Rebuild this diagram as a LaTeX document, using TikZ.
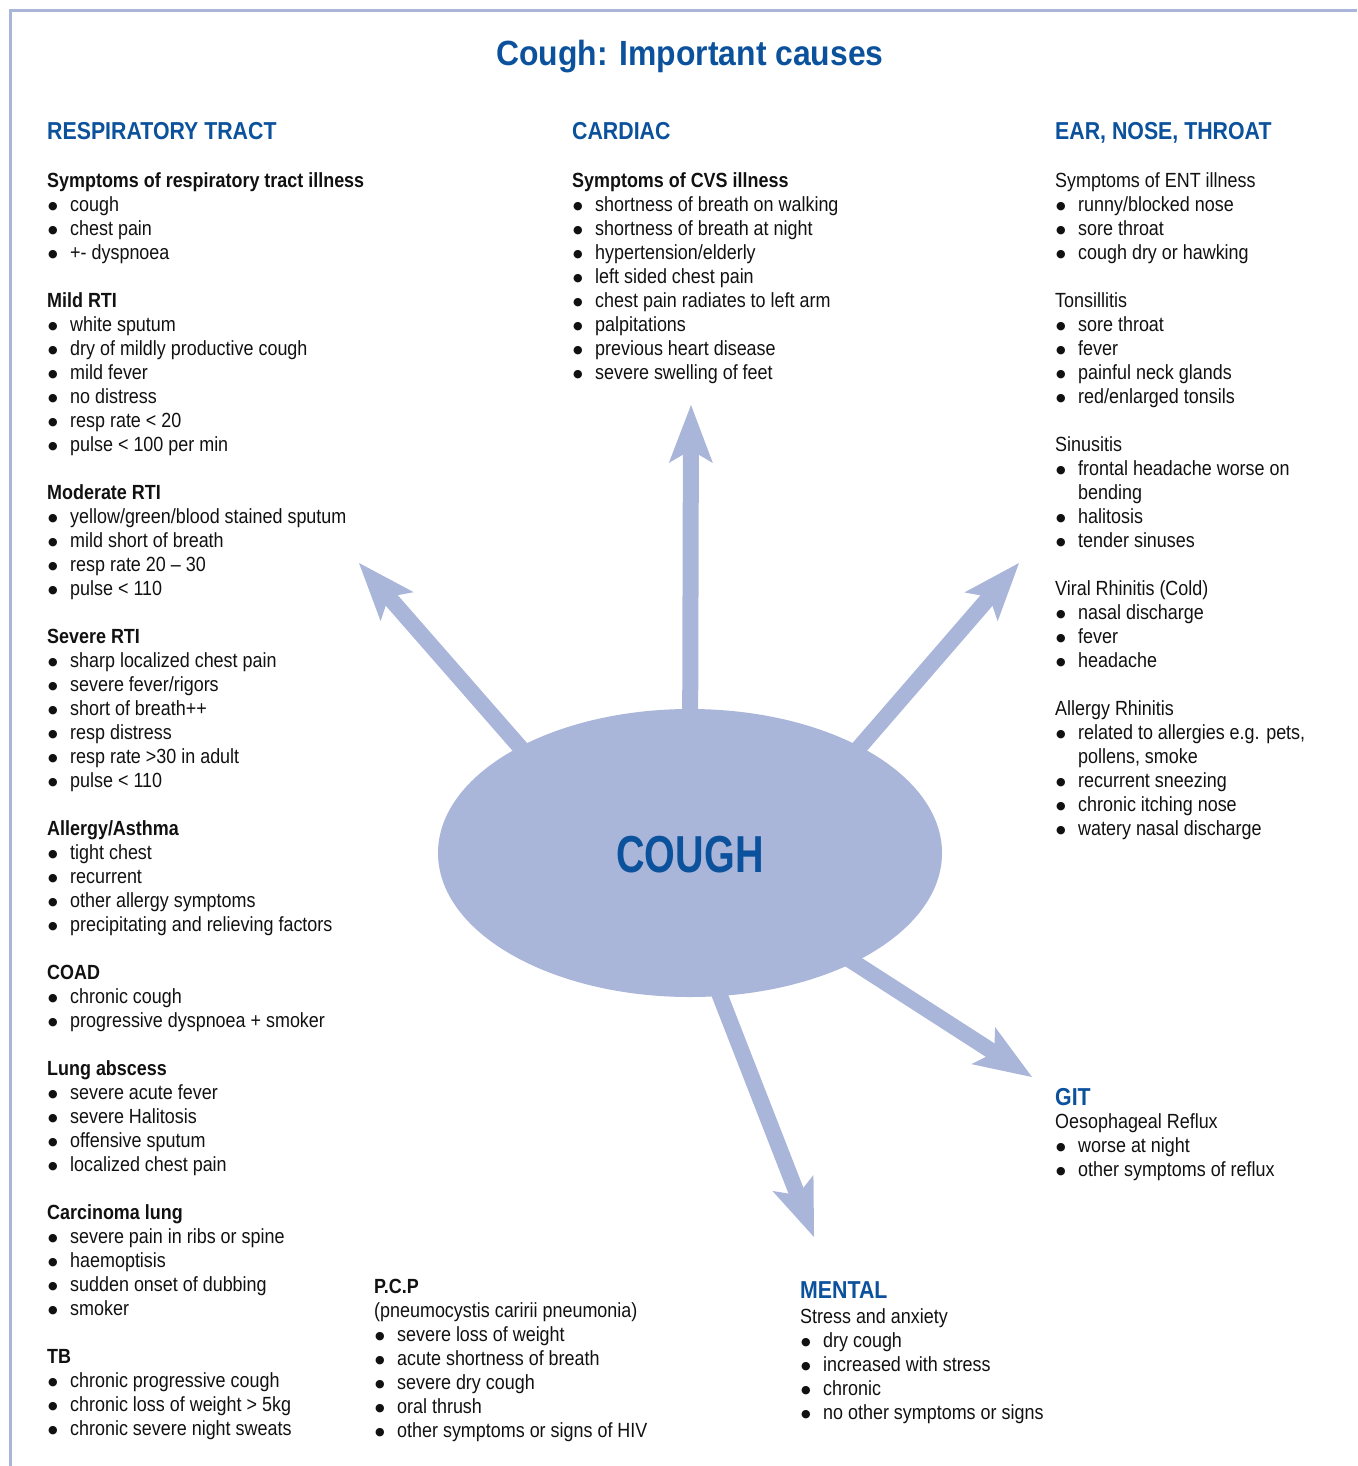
\documentclass[tikz,border=0pt]{standalone}
\usepackage{fontspec}
\setmainfont{Liberation Sans}[FakeStretch=0.875]
\newfontfamily\titlefont{Liberation Sans}[FakeStretch=0.91]
\newfontfamily\headfont{Liberation Sans}[FakeStretch=0.87]
\newfontfamily\coughfont{Liberation Sans}[FakeStretch=0.76]
\newfontfamily\bulletfont{DejaVu Sans}
\usetikzlibrary{arrows.meta,shapes.geometric}
\definecolor{arrowblue}{HTML}{A9B5D9}
\definecolor{headblue}{HTML}{0B519C}
\definecolor{txt}{HTML}{111111}
\newcommand{\bl}{\makebox[23pt][l]{\hspace{1pt}\raisebox{1.5pt}{\bulletfont\fontsize{11}{11}\selectfont ●}}}
\newcommand{\ind}{\hspace*{23pt}}
\newcommand{\fl}{\rule{0pt}{17pt}}
\begin{document}
\begin{tikzpicture}[x=1pt,y=-1pt,
  body/.style={anchor=north west, inner sep=0pt, align=left, text=txt, font=\fontsize{20.5}{24}\selectfont},
  head/.style={anchor=base west, inner sep=0pt, text=headblue, font=\headfont\fontsize{24.5}{30}\selectfont\bfseries},
  bigarrow/.style={line width=16pt, draw=arrowblue, -{Stealth[length=58pt,width=44pt,inset=13pt,line width=0pt]}}]
\useasboundingbox (0,0) rectangle (1357,1466);

% border
\coordinate (bTL) at (10.5,11);
\coordinate (bTR) at (1357,11);
\coordinate (bBL) at (10.5,1466);
\draw[arrowblue, line width=3pt] (bTR) -- (bTL) -- (bBL);

% title
\node[anchor=base, inner sep=0pt, text=headblue, font=\titlefont\fontsize{35}{42}\selectfont\bfseries] (title) at (690,66) {Cough: Important causes};

% central ellipse
\node[ellipse, fill=arrowblue, minimum width=504pt, minimum height=288pt, inner sep=0pt] (cough) at (690,853) {};

% arrows
\coordinate (upbase) at (690,780);
\coordinate (uptip) at (691,405);
\coordinate (ulbase) at (568,802);
\coordinate (ultip) at (359,563);
\coordinate (urbase) at (812,802);
\coordinate (urtip) at (1019,563);
\coordinate (drbase) at (802,929);
\coordinate (drtip) at (1032,1077);
\coordinate (dbase) at (701,947);
\coordinate (dtip) at (814,1237);
\draw[bigarrow] (upbase) -- (uptip);
\draw[bigarrow] (ulbase) -- (ultip);
\draw[bigarrow] (urbase) -- (urtip);
\draw[bigarrow] (drbase) -- (drtip);
\draw[bigarrow] (dbase) -- (dtip);

\node[anchor=base, inner sep=0pt, text=headblue, font=\coughfont\fontsize{52}{60}\selectfont\bfseries] (coughlabel) at (690,872) {COUGH};

% headers
\node[head] (hresp) at (47,140) {RESPIRATORY TRACT};
\node[head] (hcard) at (572,140) {CARDIAC};
\node[head] (hent) at (1055,140) {EAR, NOSE, THROAT};
\node[head] (hgit) at (1055,1105) {GIT};
\node[head] (hmental) at (800,1298) {MENTAL};

% respiratory column
\node[body] (resp) at (47,170) {\fl\textbf{Symptoms of respiratory tract illness}\\
\bl cough\\
\bl chest pain\\
\bl +- dyspnoea\\[24pt]
\textbf{Mild RTI}\\
\bl white sputum\\
\bl dry of mildly productive cough\\
\bl mild fever\\
\bl no distress\\
\bl resp rate < 20\\
\bl pulse < 100 per min\\[24pt]
\textbf{Moderate RTI}\\
\bl yellow/green/blood stained sputum\\
\bl mild short of breath\\
\bl resp rate 20 -- 30\\
\bl pulse < 110\\[24pt]
\textbf{Severe RTI}\\
\bl sharp localized chest pain\\
\bl severe fever/rigors\\
\bl short of breath++\\
\bl resp distress\\
\bl resp rate >30 in adult\\
\bl pulse < 110\\[24pt]
\textbf{Allergy/Asthma}\\
\bl tight chest\\
\bl recurrent\\
\bl other allergy symptoms\\
\bl precipitating and relieving factors\\[24pt]
\textbf{COAD}\\
\bl chronic cough\\
\bl progressive dyspnoea + smoker\\[24pt]
\textbf{Lung abscess}\\
\bl severe acute fever\\
\bl severe Halitosis\\
\bl offensive sputum\\
\bl localized chest pain\\[24pt]
\textbf{Carcinoma lung}\\
\bl severe pain in ribs or spine\\
\bl haemoptisis\\
\bl sudden onset of dubbing\\
\bl smoker\\[24pt]
\textbf{TB}\\
\bl chronic progressive cough\\
\bl chronic loss of weight > 5kg\\
\bl chronic severe night sweats};

% cardiac column
\node[body] (card) at (572,170) {\fl\textbf{Symptoms of CVS illness}\\
\bl shortness of breath on walking\\
\bl shortness of breath at night\\
\bl hypertension/elderly\\
\bl left sided chest pain\\
\bl chest pain radiates to left arm\\
\bl palpitations\\
\bl previous heart disease\\
\bl severe swelling of feet};

% ENT column
\node[body] (ent) at (1055,170) {\fl Symptoms of ENT illness\\
\bl runny/blocked nose\\
\bl sore throat\\
\bl cough dry or hawking\\[24pt]
Tonsillitis\\
\bl sore throat\\
\bl fever\\
\bl painful neck glands\\
\bl red/enlarged tonsils\\[24pt]
Sinusitis\\
\bl frontal headache worse on\\
\ind bending\\
\bl halitosis\\
\bl tender sinuses\\[24pt]
Viral Rhinitis (Cold)\\
\bl nasal discharge\\
\bl fever\\
\bl headache\\[24pt]
Allergy Rhinitis\\
\bl related to allergies e.g. pets,\\
\ind pollens, smoke\\
\bl recurrent sneezing\\
\bl chronic itching nose\\
\bl watery nasal discharge};

% GIT
\node[body] (git) at (1055,1111) {\fl Oesophageal Reflux\\
\bl worse at night\\
\bl other symptoms of reflux};

% mental
\node[body] (mental) at (800,1306) {\fl Stress and anxiety\\
\bl dry cough\\
\bl increased with stress\\
\bl chronic\\
\bl no other symptoms or signs};

% PCP
\node[body] (pcp) at (374,1276) {\fl\textbf{P.C.P}\\
(pneumocystis caririi pneumonia)\\
\bl severe loss of weight\\
\bl acute shortness of breath\\
\bl severe dry cough\\
\bl oral thrush\\
\bl other symptoms or signs of HIV};
\end{tikzpicture}
\end{document}
